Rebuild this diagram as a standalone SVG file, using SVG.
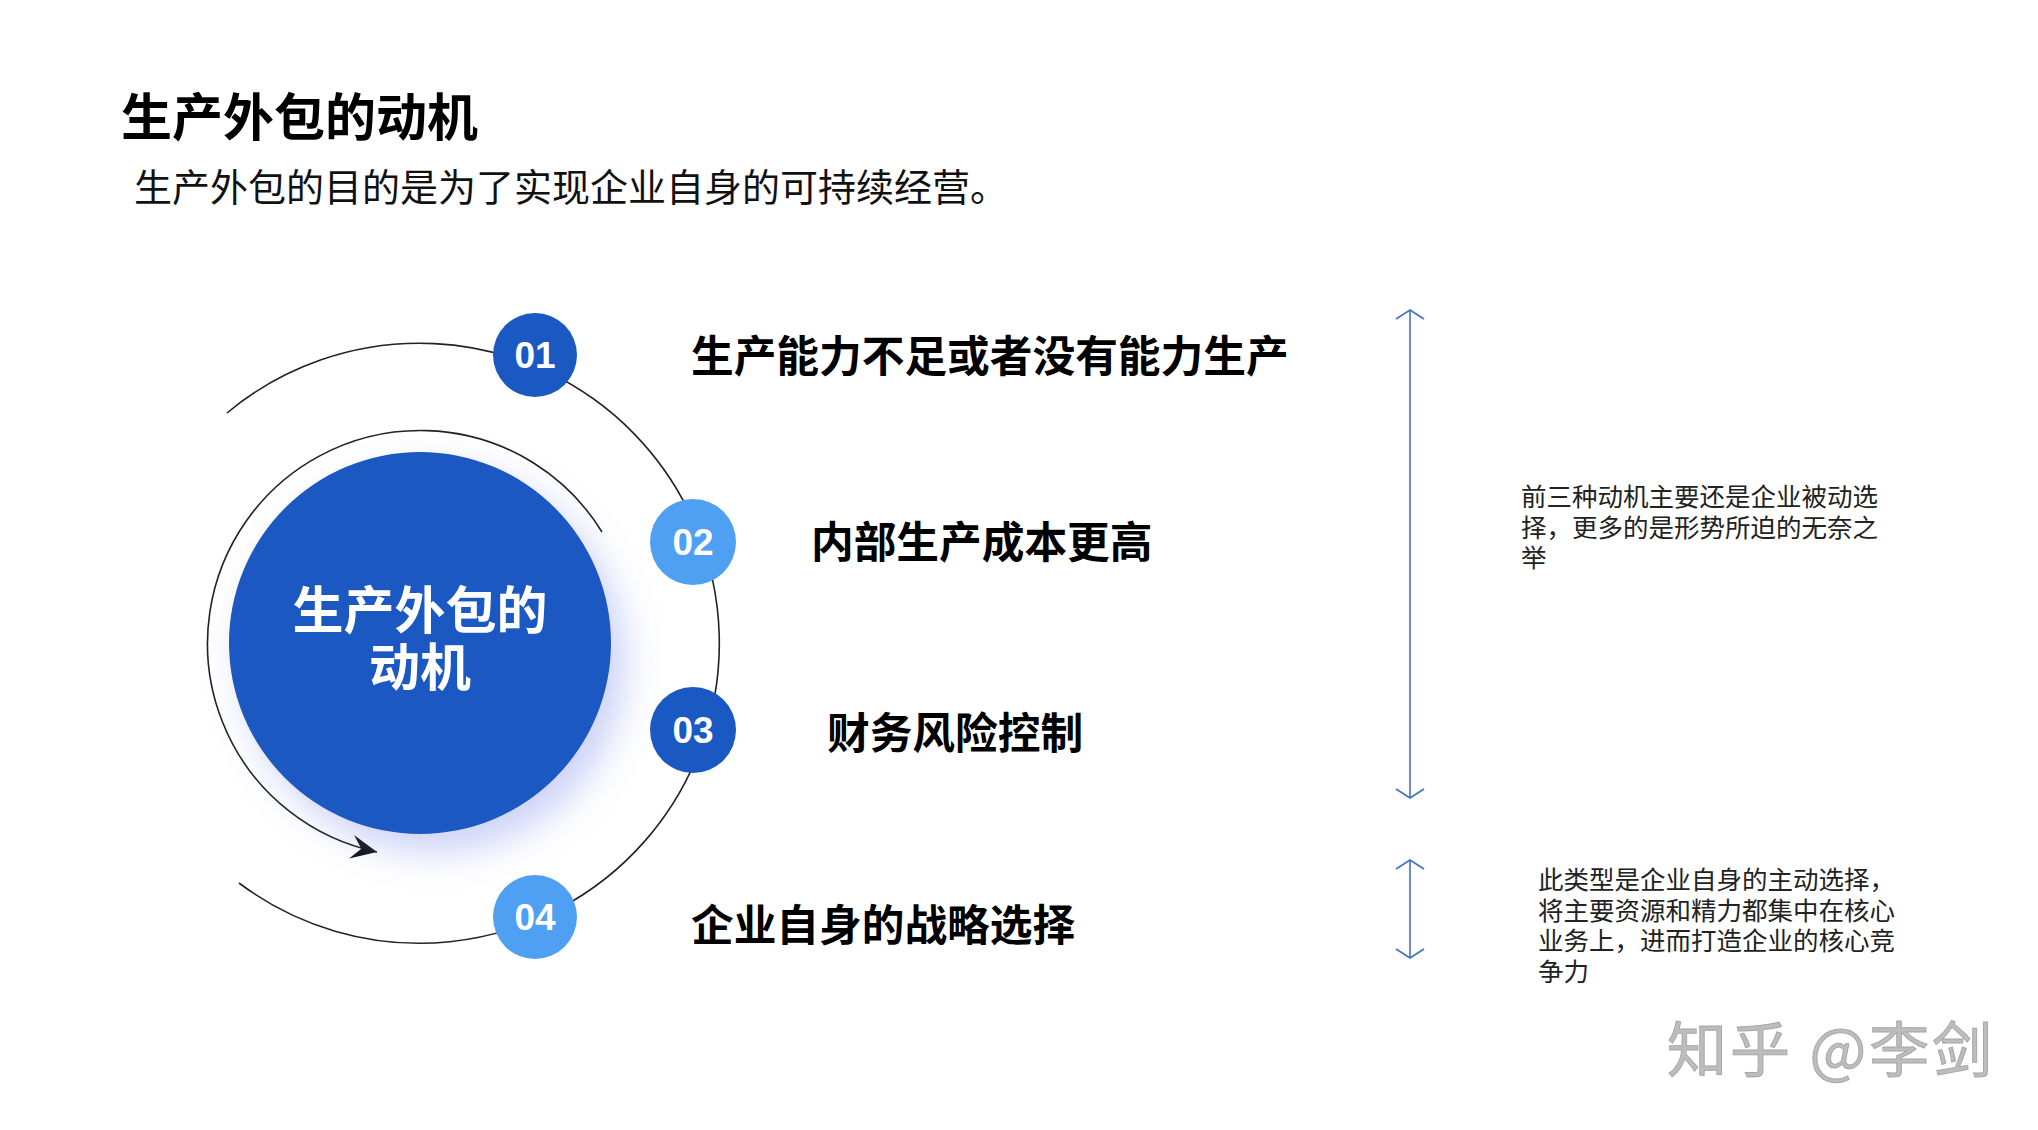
<svg xmlns="http://www.w3.org/2000/svg" width="2038" height="1130" viewBox="0 0 2038 1130">
<style>
.cjk{font-family:"Noto Sans CJK SC","Noto Sans",sans-serif}
.title{font-size:51px;font-weight:700;fill:#000}
.sub{font-size:38px;fill:#111}
.lbl{font-size:42.7px;font-weight:700;fill:#000}
.num{font-family:"Liberation Sans",Arial,sans-serif;font-size:37px;font-weight:700;fill:#fff}
.note{font-size:25.5px;fill:#222}
.line{fill:none;stroke:#222;stroke-width:1.6}
.vline{fill:none;stroke:#4472C4;stroke-width:1.6}
.dark{fill:#1A58C2}
.light{fill:#4F9FF3}
</style>
<defs>
<filter id="glow" x="-40%" y="-40%" width="180%" height="180%">
<feGaussianBlur in="SourceAlpha" stdDeviation="18"/>
<feOffset dx="14" dy="18" result="b"/>
<feFlood flood-color="#6C7FE8" flood-opacity="0.35"/>
<feComposite in2="b" operator="in"/>
<feMerge><feMergeNode/><feMergeNode in="SourceGraphic"/></feMerge>
</filter>
<marker id="barb" viewBox="-28 -14 30 28" markerWidth="30" markerHeight="28" refX="0" refY="0" orient="auto" markerUnits="userSpaceOnUse">
<path d="M0,0 L-26,-12 L-16,0 L-26,12 Z" fill="#111"/>
</marker>
<marker id="vhead" viewBox="-12 -16 24 32" markerWidth="24" markerHeight="32" refX="0" refY="0" orient="auto-start-reverse" markerUnits="userSpaceOnUse">
<path d="M-9,-14 L0,0 L-9,14" fill="none" stroke="#4472C4" stroke-width="1.8"/>
</marker>
</defs>
<rect width="2038" height="1130" fill="#fff"/>

<g id="header">
<text class="cjk title" x="121" y="136">生产外包的动机</text>
<text class="cjk sub" x="134" y="201">生产外包的目的是为了实现企业自身的可持续经营。</text>
</g>

<g id="connectors">
<path class="line" d="M227,413 A300,300 0 1 1 239,883"/>
<path class="line" d="M602,532 A213,213 0 1 0 377,852" marker-end="url(#barb)"/>
<line class="vline" x1="1410" y1="310" x2="1410" y2="798" marker-start="url(#vhead)" marker-end="url(#vhead)"/>
<line class="vline" x1="1410" y1="860" x2="1410" y2="958" marker-start="url(#vhead)" marker-end="url(#vhead)"/>
</g>

<g id="center">
<circle class="dark" cx="420" cy="643" r="191" filter="url(#glow)"/>
<text class="cjk" x="420" y="629" text-anchor="middle" font-size="51" font-weight="700" fill="#fff">生产外包的</text>
<text class="cjk" x="420" y="686" text-anchor="middle" font-size="51" font-weight="700" fill="#fff">动机</text>
</g>

<g id="item1">
<circle class="dark" cx="535" cy="355" r="42"/>
<text class="num" x="535" y="368" text-anchor="middle">01</text>
<text class="cjk lbl" x="691" y="372">生产能力不足或者没有能力生产</text>
</g>
<g id="item2">
<circle class="light" cx="693" cy="542" r="43"/>
<text class="num" x="693" y="555" text-anchor="middle">02</text>
<text class="cjk lbl" x="811" y="558">内部生产成本更高</text>
</g>
<g id="item3">
<circle class="dark" cx="693" cy="730" r="43"/>
<text class="num" x="693" y="743" text-anchor="middle">03</text>
<text class="cjk lbl" x="827" y="749">财务风险控制</text>
</g>
<g id="item4">
<circle class="light" cx="535" cy="917" r="42"/>
<text class="num" x="535" y="930" text-anchor="middle">04</text>
<text class="cjk lbl" x="691" y="941">企业自身的战略选择</text>
</g>

<g id="note1">
<text class="cjk note" x="1521" y="506">前三种动机主要还是企业被动选</text>
<text class="cjk note" x="1521" y="537">择，更多的是形势所迫的无奈之</text>
<text class="cjk note" x="1521" y="567">举</text>
</g>
<g id="note2">
<text class="cjk note" x="1538" y="889">此类型是企业自身的主动选择，</text>
<text class="cjk note" x="1538" y="920">将主要资源和精力都集中在核心</text>
<text class="cjk note" x="1538" y="950">业务上，进而打造企业的核心竞</text>
<text class="cjk note" x="1538" y="981">争力</text>
</g>

<g id="watermark">
<text class="cjk" x="1667" y="1072" font-size="60" letter-spacing="3" fill="#bdbdbd" stroke="#a8a8a8" stroke-width="1">知乎 @李剑</text>
</g>
</svg>
